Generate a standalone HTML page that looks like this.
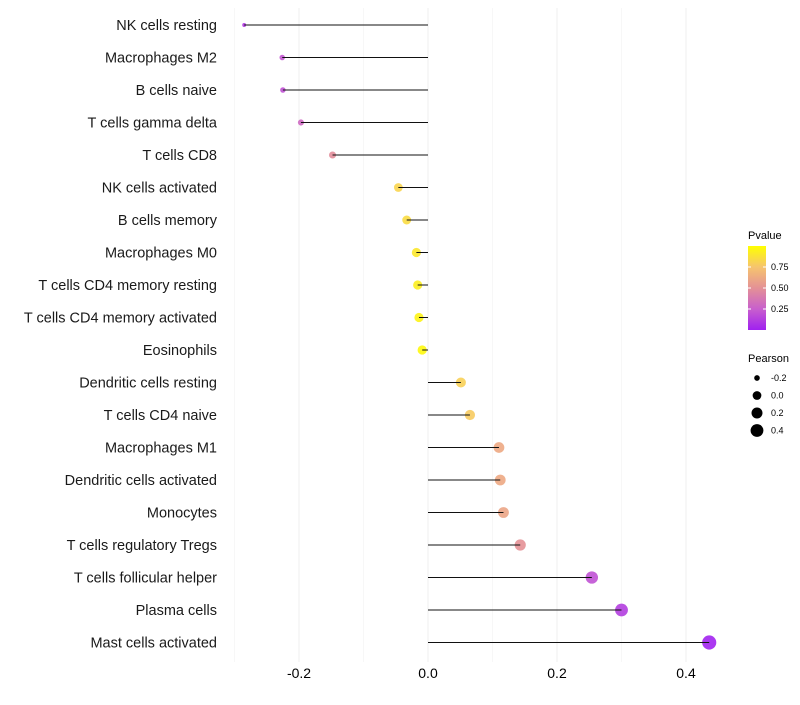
<!DOCTYPE html>
<html><head><meta charset="utf-8"><style>
body{margin:0;background:#fff;font-family:"Liberation Sans",sans-serif}
svg text{font-family:"Liberation Sans",sans-serif}
</style></head><body>
<svg id="c" width="800" height="700"></svg>
<script>
const categories=["NK cells resting","Macrophages M2","B cells naive","T cells gamma delta","T cells CD8","NK cells activated","B cells memory","Macrophages M0","T cells CD4 memory resting","T cells CD4 memory activated","Eosinophils","Dendritic cells resting","T cells CD4 naive","Macrophages M1","Dendritic cells activated","Monocytes","T cells regulatory  Tregs ","T cells follicular helper","Plasma cells","Mast cells activated"];
const pearson=[-0.285,-0.226,-0.225,-0.197,-0.148,-0.046,-0.033,-0.018,-0.016,-0.014,-0.009,0.051,0.065,0.110,0.112,0.117,0.143,0.254,0.300,0.436];
const pvalue=[0.1,0.22,0.2,0.3,0.48,0.82,0.85,0.9,0.93,0.95,0.97,0.8,0.78,0.62,0.62,0.6,0.5,0.2,0.12,0.01];
const xTicks=[-0.2,0,0.2,0.4];
const xMinor=[-0.3,-0.1,0.1,0.3];
const sizeLegend=[-0.2,0,0.2,0.4];
const colorTicks=[0.25,0.5,0.75];
const NS="http://www.w3.org/2000/svg",svg=document.getElementById('c');
function el(t,a,p){const e=document.createElementNS(NS,t);for(const k in a)e.setAttribute(k,a[k]);(p||svg).appendChild(e);return e;}
const x=v=>428+v*645;
const y=i=>25+i*32.5;
const r=v=>Math.sqrt(Math.max(1.5,22+64*v));
const stops=[[160,32,240],[200,95,205],[228,145,150],[246,196,110],[255,255,0]];
function col(p){const t=Math.min(1,Math.max(0,p))*4,i=Math.min(3,Math.floor(t)),f=t-i;const a=stops[i],b=stops[i+1];return `rgb(${a.map((c,k)=>Math.round(c+(b[k]-c)*f)).join(',')})`;}
xMinor.forEach(v=>{const l=el('line',{x1:x(v),x2:x(v),y1:8,y2:662,stroke:'#f7f7f7','stroke-width':1});

});
xTicks.forEach(v=>{const l=el('line',{x1:x(v),x2:x(v),y1:8,y2:662,stroke:'#efefef','stroke-width':1});


const t=el('text',{x:x(v),y:678,'text-anchor':'middle','font-size':14,fill:'#000'});t.textContent=v===0?'0.0':v.toFixed(1);

});
categories.forEach((c,i)=>{
const t=el('text',{x:217,y:y(i)+5,'text-anchor':'end','font-size':14.5,fill:'#1a1a1a'});t.textContent=c;


const d=el('circle',{cx:x(pearson[i]),cy:y(i),r:r(pearson[i]),fill:col(pvalue[i]),'fill-opacity':0.9});


const l=el('line',{x1:x(0),x2:x(pearson[i]),y1:y(i),y2:y(i),stroke:'#111','stroke-width':1});


});
const lt=el('text',{x:748,y:239,'font-size':11});lt.textContent='Pvalue';


const defs=el('defs',{});const g=el('linearGradient',{id:'pg',x1:0,y1:1,x2:0,y2:0},defs);
stops.forEach((s,i)=>el('stop',{offset:i/4,'stop-color':`rgb(${s.join(',')})`},g));
const bar=el('rect',{x:748,y:246,width:18,height:84,fill:'url(#pg)'});


colorTicks.forEach(v=>{const yy=330-v*84;
const tk=el('line',{x1:748,x2:751,y1:yy,y2:yy,stroke:'#fff'});el('line',{x1:763,x2:766,y1:yy,y2:yy,stroke:'#fff'});


const t=el('text',{x:771,y:yy+3,'font-size':9});t.textContent=v.toFixed(2);

});
const st=el('text',{x:748,y:362,'font-size':11});st.textContent='Pearson';


sizeLegend.forEach((v,i)=>{const yy=378+i*17.5;
const d=el('circle',{cx:757,cy:yy,r:r(v)*0.93,fill:'#000'});


const t=el('text',{x:771,y:yy+3,'font-size':9});t.textContent=v.toFixed(1);

});
</script>
</body></html>
